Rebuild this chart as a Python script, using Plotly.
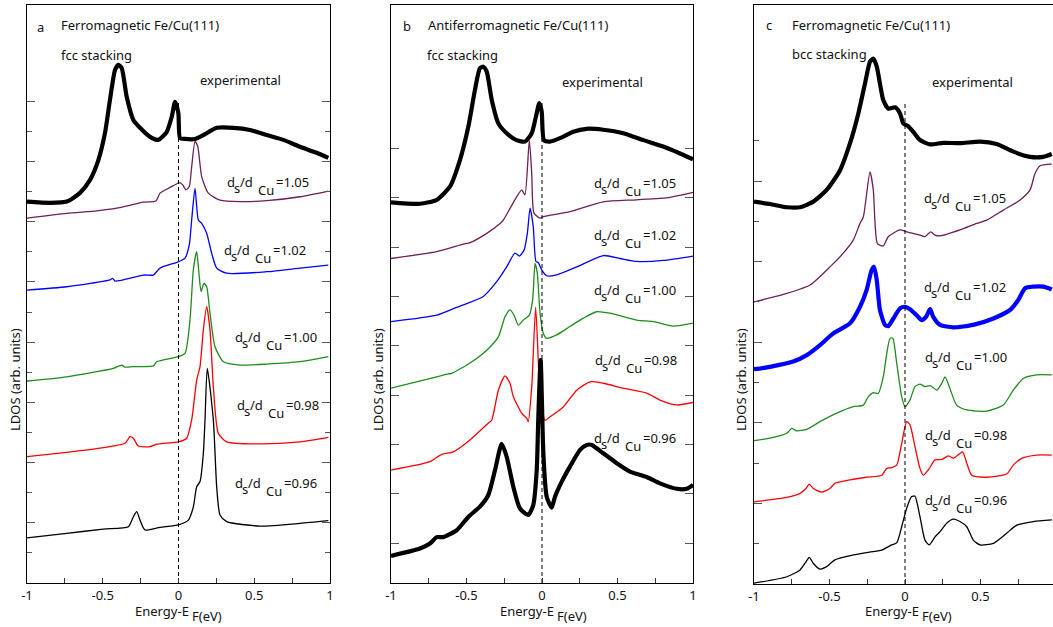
import plotly.graph_objects as go

# ---------------- data (energy in eV, LDOS in arbitrary units) ----------------
X_TICKS = [-1, -0.75, -0.5, -0.25, 0, 0.25, 0.5, 0.75, 1]
X_TICKTEXT = ["-1", "", "-0.5", "", "0", "", "0.5", "", "1"]
RATIO_LABELS = ["1.05", "1.02", "1.00", "0.98", "0.96"]

# Panel a: ferromagnetic, fcc stacking
A_EXP_E = [-1.0, -0.848, -0.738, -0.650, -0.584, -0.529, -0.485, -0.452, -0.419, -0.397, -0.375, -0.342, -0.298, -0.254, -0.188, -0.133, -0.078, -0.045, -0.023, -0.001, 0.010, 0.043, 0.109, 0.164, 0.252, 0.362, 0.472, 0.582, 0.692, 0.802, 0.912, 0.989]
A_EXP_L = [12.67, 12.63, 12.67, 12.96, 13.39, 14.05, 14.95, 16.06, 17.04, 17.21, 17.11, 16.15, 15.38, 15.12, 14.82, 14.72, 14.98, 15.48, 15.98, 15.61, 14.78, 14.75, 14.75, 14.88, 15.12, 15.12, 15.05, 14.88, 14.72, 14.49, 14.29, 14.12]
A_105_E = [-1.0, -0.738, -0.540, -0.408, -0.232, -0.149, -0.122, -0.078, -0.034, 0.010, 0.028, 0.050, 0.071, 0.087, 0.109, 0.127, 0.153, 0.197, 0.274, 0.406, 0.582, 0.802, 0.989]
A_105_L = [12.12, 12.28, 12.36, 12.45, 12.65, 12.69, 12.95, 13.08, 13.20, 13.30, 13.22, 13.06, 13.17, 13.83, 14.66, 14.50, 13.50, 12.95, 12.72, 12.67, 12.70, 12.83, 13.02]
A_102_E = [-1.0, -0.738, -0.452, -0.435, -0.419, -0.232, -0.166, -0.122, -0.001, 0.043, 0.071, 0.087, 0.109, 0.131, 0.153, 0.186, 0.219, 0.252, 0.318, 0.582, 0.802, 0.989]
A_102_L = [9.73, 9.84, 10.07, 10.12, 10.03, 10.23, 10.23, 10.46, 10.67, 10.79, 11.23, 12.06, 13.11, 12.06, 11.95, 11.62, 10.95, 10.46, 10.29, 10.34, 10.46, 10.56]
A_100_E = [-1.0, -0.738, -0.430, -0.375, -0.353, -0.298, -0.166, -0.144, -0.001, 0.043, 0.076, 0.098, 0.120, 0.135, 0.149, 0.168, 0.186, 0.208, 0.241, 0.296, 0.406, 0.582, 0.802, 0.989]
A_100_L = [6.71, 6.85, 7.13, 7.24, 7.17, 7.19, 7.21, 7.35, 7.52, 7.63, 8.74, 10.40, 11.01, 10.29, 9.68, 9.96, 9.84, 8.96, 7.85, 7.35, 7.24, 7.27, 7.35, 7.52]
A_098_E = [-1.0, -0.738, -0.518, -0.353, -0.320, -0.298, -0.265, -0.188, -0.144, -0.001, 0.054, 0.087, 0.120, 0.142, 0.164, 0.186, 0.208, 0.230, 0.263, 0.318, 0.538, 0.802, 0.989]
A_098_L = [4.20, 4.34, 4.48, 4.64, 4.86, 4.81, 4.55, 4.53, 4.61, 4.69, 4.81, 5.42, 6.74, 7.19, 8.41, 9.18, 8.41, 6.52, 4.97, 4.69, 4.62, 4.69, 4.84]
A_096_E = [-1.0, -0.738, -0.496, -0.331, -0.298, -0.276, -0.254, -0.221, -0.122, -0.001, 0.065, 0.098, 0.120, 0.142, 0.164, 0.175, 0.190, 0.230, 0.252, 0.274, 0.318, 0.538, 0.802, 0.989]
A_096_L = [1.50, 1.65, 1.79, 1.87, 2.20, 2.37, 2.09, 1.76, 1.85, 1.93, 2.09, 2.53, 3.20, 3.37, 4.31, 5.42, 7.13, 5.42, 3.20, 2.26, 2.04, 1.89, 1.98, 2.07]

# Panel b: antiferromagnetic, fcc stacking
B_EXP_E = [-1.0, -0.808, -0.697, -0.609, -0.543, -0.488, -0.444, -0.411, -0.389, -0.366, -0.333, -0.289, -0.234, -0.168, -0.113, -0.068, -0.040, -0.018, -0.002, 0.013, 0.053, 0.119, 0.207, 0.296, 0.406, 0.538, 0.671, 0.803, 0.914, 1.0]
B_EXP_L = [6.91, 6.88, 6.96, 7.23, 7.77, 8.44, 9.19, 9.63, 9.66, 9.56, 8.99, 8.51, 8.31, 8.17, 8.14, 8.31, 8.65, 8.92, 8.75, 8.17, 8.14, 8.21, 8.34, 8.40, 8.38, 8.31, 8.17, 8.04, 7.90, 7.78]
B_105_E = [-1.0, -0.697, -0.521, -0.477, -0.366, -0.278, -0.256, -0.168, -0.134, -0.113, -0.084, -0.068, -0.053, -0.013, 0.009, 0.185, 0.406, 0.627, 0.848, 1.0]
B_105_L = [5.77, 5.91, 6.06, 6.09, 6.28, 6.48, 6.55, 7.02, 7.16, 7.06, 8.17, 7.50, 6.69, 6.59, 6.62, 6.72, 6.92, 6.96, 7.01, 7.11]
B_102_E = [-1.0, -0.697, -0.565, -0.521, -0.389, -0.300, -0.234, -0.179, -0.150, -0.119, -0.097, -0.079, -0.058, -0.040, -0.025, -0.002, 0.031, 0.097, 0.230, 0.406, 0.517, 0.627, 0.803, 1.0]
B_102_L = [4.49, 4.62, 4.78, 4.83, 5.00, 5.30, 5.60, 5.88, 5.82, 5.94, 6.28, 6.79, 6.42, 5.71, 5.69, 5.54, 5.42, 5.44, 5.60, 5.83, 5.77, 5.71, 5.73, 5.82]
B_100_E = [-1.0, -0.697, -0.621, -0.598, -0.477, -0.366, -0.289, -0.245, -0.212, -0.185, -0.157, -0.124, -0.084, -0.062, -0.046, -0.031, -0.013, 0.009, 0.031, 0.097, 0.185, 0.274, 0.362, 0.450, 0.627, 0.737, 0.870, 1.0]
B_100_L = [3.14, 3.37, 3.43, 3.44, 3.65, 3.91, 4.18, 4.59, 4.73, 4.62, 4.42, 4.52, 4.62, 4.93, 5.67, 5.47, 4.66, 4.25, 4.15, 4.22, 4.39, 4.56, 4.69, 4.66, 4.52, 4.49, 4.40, 4.46]
B_098_E = [-1.0, -0.742, -0.664, -0.587, -0.477, -0.356, -0.333, -0.289, -0.245, -0.212, -0.190, -0.134, -0.101, -0.091, -0.068, -0.042, -0.013, 0.020, 0.053, 0.141, 0.230, 0.318, 0.406, 0.538, 0.693, 0.781, 0.892, 1.0]
B_098_L = [1.48, 1.65, 1.80, 1.85, 2.09, 2.43, 2.49, 3.10, 3.39, 3.24, 2.97, 2.63, 2.53, 2.46, 3.17, 4.78, 3.04, 2.49, 2.56, 2.76, 3.10, 3.27, 3.24, 3.14, 3.04, 2.90, 2.80, 2.85]
B_096_E = [-1.0, -0.808, -0.742, -0.697, -0.654, -0.565, -0.488, -0.411, -0.356, -0.311, -0.267, -0.234, -0.190, -0.146, -0.091, -0.058, -0.035, -0.025, -0.009, 0.009, 0.031, 0.064, 0.086, 0.130, 0.185, 0.252, 0.296, 0.329, 0.406, 0.495, 0.583, 0.693, 0.781, 0.892, 0.958, 1.0]
B_096_L = [-0.26, -0.11, -0.01, 0.12, 0.12, 0.26, 0.53, 0.74, 0.97, 1.48, 2.01, 1.75, 1.14, 0.70, 0.57, 0.77, 1.48, 2.49, 3.71, 1.82, 0.94, 0.72, 0.94, 1.24, 1.55, 1.89, 1.99, 1.99, 1.82, 1.62, 1.45, 1.34, 1.21, 1.10, 1.10, 1.18]

# Panel c: ferromagnetic, bcc stacking
C_EXP_E = [-1.0, -0.894, -0.783, -0.695, -0.607, -0.519, -0.430, -0.364, -0.309, -0.265, -0.232, -0.210, -0.187, -0.166, -0.144, -0.111, -0.066, -0.033, -0.011, 0.022, 0.055, 0.099, 0.166, 0.254, 0.364, 0.497, 0.607, 0.717, 0.828, 0.916, 0.972]
C_EXP_L = [9.49, 9.43, 9.35, 9.35, 9.49, 9.78, 10.27, 10.94, 11.68, 12.42, 12.96, 13.04, 12.84, 12.42, 12.01, 11.80, 11.83, 11.68, 11.43, 11.36, 11.22, 11.02, 10.91, 10.95, 10.94, 10.98, 10.92, 10.73, 10.60, 10.60, 10.67]
C_105_E = [-1.0, -0.783, -0.629, -0.497, -0.409, -0.342, -0.298, -0.276, -0.232, -0.210, -0.199, -0.183, -0.144, -0.111, -0.033, 0.011, 0.055, 0.099, 0.132, 0.170, 0.199, 0.232, 0.364, 0.475, 0.541, 0.651, 0.762, 0.828, 0.861, 0.894, 0.972]
C_105_L = [7.00, 7.21, 7.42, 7.87, 8.21, 8.54, 8.95, 9.11, 10.23, 9.78, 8.99, 8.45, 8.39, 8.62, 8.79, 8.74, 8.70, 8.66, 8.62, 8.74, 8.66, 8.64, 8.79, 8.95, 9.03, 9.28, 9.53, 9.78, 10.19, 10.38, 10.42]
C_102_E = [-1.0, -0.894, -0.740, -0.651, -0.563, -0.475, -0.364, -0.298, -0.254, -0.221, -0.205, -0.187, -0.166, -0.132, -0.111, -0.077, -0.033, 0.0, 0.033, 0.077, 0.111, 0.139, 0.166, 0.187, 0.232, 0.320, 0.452, 0.585, 0.695, 0.750, 0.795, 0.850, 0.916, 0.972]
C_102_L = [5.33, 5.39, 5.52, 5.68, 5.93, 6.22, 6.47, 6.88, 7.30, 7.79, 7.87, 7.54, 6.80, 6.43, 6.40, 6.59, 6.84, 6.88, 6.82, 6.67, 6.55, 6.63, 6.82, 6.63, 6.43, 6.37, 6.43, 6.59, 6.80, 7.05, 7.34, 7.38, 7.38, 7.31]
C_100_E = [-1.0, -0.894, -0.783, -0.750, -0.717, -0.651, -0.563, -0.452, -0.342, -0.276, -0.243, -0.210, -0.177, -0.144, -0.121, -0.099, -0.081, -0.055, -0.022, 0.0, 0.033, 0.066, 0.099, 0.132, 0.170, 0.210, 0.243, 0.265, 0.293, 0.342, 0.409, 0.541, 0.651, 0.717, 0.783, 0.872, 0.972]
C_100_L = [3.56, 3.62, 3.74, 3.86, 3.80, 3.84, 4.03, 4.24, 4.40, 4.44, 4.65, 4.75, 4.73, 5.14, 5.72, 6.10, 6.10, 5.48, 4.65, 4.40, 4.57, 4.90, 4.96, 4.90, 4.92, 4.81, 4.98, 5.14, 4.90, 4.44, 4.32, 4.29, 4.44, 4.81, 5.10, 5.19, 5.19]
C_098_E = [-1.0, -0.783, -0.695, -0.656, -0.634, -0.607, -0.552, -0.497, -0.464, -0.342, -0.254, -0.154, -0.121, -0.088, -0.055, -0.022, 0.011, 0.033, 0.066, 0.099, 0.121, 0.154, 0.199, 0.243, 0.287, 0.320, 0.364, 0.382, 0.409, 0.442, 0.541, 0.673, 0.717, 0.773, 0.872, 0.972]
C_098_L = [2.04, 2.15, 2.25, 2.37, 2.48, 2.37, 2.28, 2.37, 2.50, 2.60, 2.65, 2.70, 2.87, 2.89, 2.95, 3.49, 4.03, 3.95, 3.41, 2.87, 2.70, 2.83, 3.08, 3.09, 3.18, 3.12, 3.24, 3.28, 3.00, 2.70, 2.65, 2.73, 2.95, 3.12, 3.20, 3.20]
C_096_E = [-1.0, -0.783, -0.695, -0.656, -0.634, -0.607, -0.563, -0.519, -0.464, -0.342, -0.254, -0.154, -0.088, -0.055, -0.022, 0.011, 0.044, 0.066, 0.099, 0.132, 0.161, 0.199, 0.232, 0.276, 0.320, 0.364, 0.409, 0.452, 0.497, 0.585, 0.673, 0.740, 0.850, 0.972]
C_096_L = [0.02, 0.18, 0.35, 0.55, 0.66, 0.51, 0.37, 0.43, 0.60, 0.72, 0.78, 0.84, 0.97, 1.02, 1.42, 1.88, 2.17, 2.18, 1.67, 1.09, 0.97, 1.17, 1.30, 1.51, 1.61, 1.55, 1.42, 1.09, 0.97, 1.01, 1.26, 1.46, 1.55, 1.59]

# Fermi-level marker (dashed) extent in each panel
FERMI_BOTTOM = [0.0, -0.81, 0.0]
FERMI_TOP = [16.05, 8.99, 11.96]

# y ticks (no labels)
A_Y_MAJOR = [2, 4, 6, 8, 10, 12, 14, 16]
A_Y_MINOR = [1, 3, 5, 7, 9, 11, 13, 15]
B_Y_MAJOR = [0, 1, 2, 3, 4, 5, 6, 7, 8]
C_Y_MAJOR = [2, 4, 6, 8, 10]
C_Y_MINOR = [1, 3, 5, 7, 9, 11]

# ---------------- styles ----------------
PURPLE = "#6E1E5A"
BLUE = "#0000FF"
GREEN = "#1E8C1E"
RED = "#FF0000"
BLACK = "#000000"
THIN, THICK = 1.3, 4.2
FONT = "Noto Sans"
FS = 13

W, H = 1053, 627


def px(x, y):
    return x / W, 1 - y / H


panels = [
    dict(xa="x", ya="y", xdom=(27, 330), ydom=(583, 5), xr=[-1, 1], yr=[0, 19.2],
         ymaj=A_Y_MAJOR, ymin=A_Y_MINOR, mirror="ticks",
         curves=[(A_EXP_E, A_EXP_L, BLACK, THICK), (A_105_E, A_105_L, PURPLE, THIN),
                 (A_102_E, A_102_L, BLUE, THIN), (A_100_E, A_100_L, GREEN, THIN),
                 (A_098_E, A_098_L, RED, THIN), (A_096_E, A_096_L, BLACK, THIN)]),
    dict(xa="x2", ya="y2", xdom=(391, 693), ydom=(583, 5), xr=[-1, 1], yr=[-0.81, 10.91],
         ymaj=B_Y_MAJOR, ymin=[], mirror="ticks",
         curves=[(B_EXP_E, B_EXP_L, BLACK, THICK), (B_105_E, B_105_L, PURPLE, THIN),
                 (B_102_E, B_102_L, BLUE, THIN), (B_100_E, B_100_L, GREEN, THIN),
                 (B_098_E, B_098_L, RED, THIN), (B_096_E, B_096_L, BLACK, THICK)]),
    dict(xa="x3", ya="y3", xdom=(754, 1053), ydom=(584, 5), xr=[-1, 0.98], yr=[0, 14.37],
         ymaj=C_Y_MAJOR, ymin=C_Y_MINOR, mirror=False,
         curves=[(C_EXP_E, C_EXP_L, BLACK, THICK), (C_105_E, C_105_L, PURPLE, THIN),
                 (C_102_E, C_102_L, BLUE, THICK), (C_100_E, C_100_L, GREEN, THIN),
                 (C_098_E, C_098_L, RED, THIN), (C_096_E, C_096_L, BLACK, THIN)]),
]

fig = go.Figure()
layout = dict(width=W, height=H, margin=dict(l=0, r=0, t=0, b=0, autoexpand=False),
              paper_bgcolor="white", plot_bgcolor="white", showlegend=False,
              font=dict(family=FONT, size=FS, color="#111"))

for i, p in enumerate(panels):
    for (e, l, c, w) in p["curves"]:
        fig.add_trace(go.Scatter(x=e, y=l, mode="lines", xaxis=p["xa"], yaxis=p["ya"],
                                 line=dict(color=c, width=w, shape="spline", smoothing=0.6),
                                 hoverinfo="skip"))
    fig.add_trace(go.Scatter(x=[0, 0], y=[FERMI_BOTTOM[i], FERMI_TOP[i]], mode="lines",
                             xaxis=p["xa"], yaxis=p["ya"],
                             line=dict(color="black", width=1, dash="4px,3px"), hoverinfo="skip"))
    xk = "xaxis" if i == 0 else f"xaxis{i+1}"
    yk = "yaxis" if i == 0 else f"yaxis{i+1}"
    layout[xk] = dict(domain=[p["xdom"][0] / W, p["xdom"][1] / W], range=p["xr"],
                      anchor=p["ya"], showline=True, linecolor="black", linewidth=1.2,
                      mirror=True, ticks="inside", ticklen=5, tickcolor="#333",
                      tickvals=X_TICKS, ticktext=X_TICKTEXT, showgrid=False, zeroline=False,
                      automargin=False, fixedrange=True,
                      tickfont=dict(size=FS, color="#111"))
    yd = dict(domain=[1 - p["ydom"][0] / H, 1 - p["ydom"][1] / H], range=p["yr"],
              anchor=p["xa"], showline=True, linecolor="black", linewidth=1.2,
              mirror=p["mirror"], ticks="inside", ticklen=8, tickcolor="#555",
              tickvals=p["ymaj"], showticklabels=False, showgrid=False, zeroline=False,
              automargin=False, fixedrange=True)
    if p["ymin"]:
        yd["minor"] = dict(tickvals=p["ymin"], ticks="inside", ticklen=5, tickcolor="#555",
                           showgrid=False)
    layout[yk] = yd

fig.update_layout(**layout)

# ---------------- text ----------------
ann = []


def text(x, y, s, size=FS, anchor="left", angle=0):
    xp, yp = px(x, y)
    ann.append(dict(x=xp, y=yp, xref="paper", yref="paper", text=s, showarrow=False,
                    xanchor=anchor, yanchor="middle", textangle=angle,
                    font=dict(family=FONT, size=size, color="#111")))


heads = [
    ("a", 35, 27, "Ferromagnetic Fe/Cu(111)", 59, 25, "fcc stacking", 59, 55, 198, 80),
    ("b", 401, 26, "Antiferromagnetic Fe/Cu(111)", 426, 25, "fcc stacking", 425, 55, 560, 82),
    ("c", 764, 25, "Ferromagnetic Fe/Cu(111)", 790, 25, "bcc stacking", 790, 54, 930, 82),
]
for (lt, lx, ly, tt, tx, ty, st, sx, sy, ex, ey) in heads:
    text(lx, ly, lt)
    text(tx, ty, tt)
    text(sx, sy, st)
    text(ex, ey, "experimental")

label_pos = [
    [(225, 182), (222, 250), (233, 337), (235, 405), (233, 483)],
    [(592, 183), (592, 235), (592, 290), (593, 360), (592, 438)],
    [(922, 198), (922, 287), (923, 357), (923, 435), (923, 500)],
]
for pos in label_pos:
    for (x, y), r in zip(pos, RATIO_LABELS):
        text(x, y, "d")
        text(x + 7, y + 6, "s")
        text(x + 13, y, "/d")
        text(x + 31, y + 8, "Cu")
        text(x + 49, y, "=" + r)

for (x0, ylx) in [(133, 15), (498, 378), (863, 741)]:
    text(x0, 611, "Energy-E")
    text(x0 + 57, 616, "F(eV)")
    text(ylx, 380, "LDOS (arb. units)", anchor="center", angle=-90)

fig.update_layout(annotations=ann)
fig.write_html("out.html", config={"displayModeBar": False, "staticPlot": True},
               post_script="document.body.style.margin='0px';document.body.style.overflow='hidden';")
